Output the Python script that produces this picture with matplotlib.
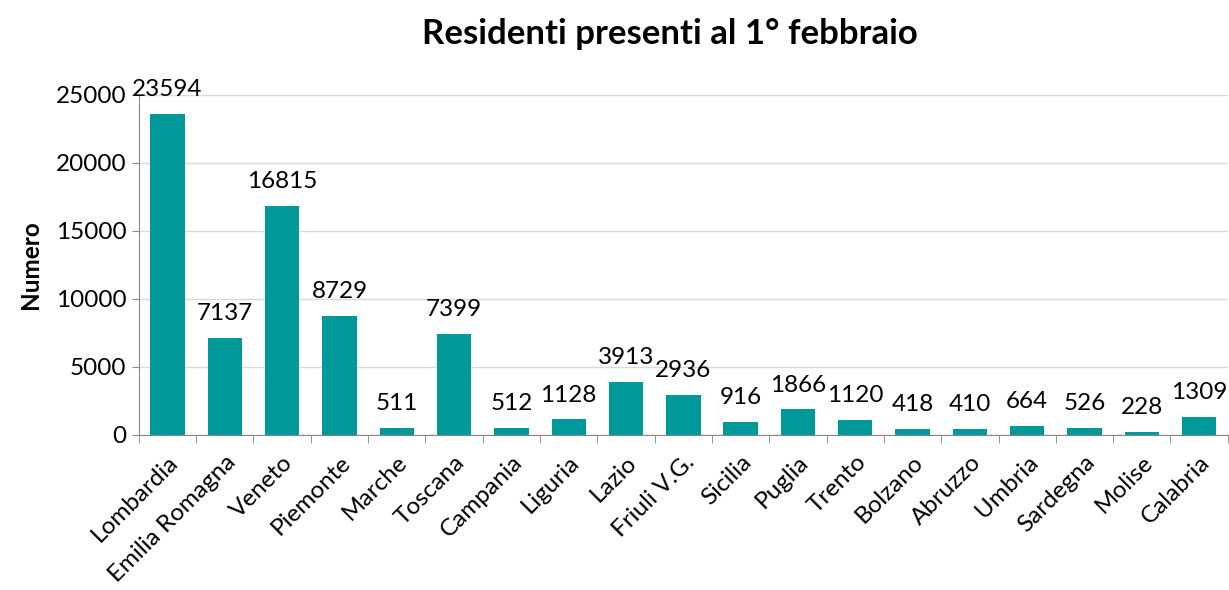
import matplotlib
matplotlib.use("Agg")
import matplotlib.pyplot as plt
import numpy as np

regions = [
    "Lombardia", "Emilia Romagna", "Veneto", "Piemonte", "Marche", "Toscana",
    "Campania", "Liguria", "Lazio", "Friuli V.G.", "Sicilia", "Puglia",
    "Trento", "Bolzano", "Abruzzo", "Umbria", "Sardegna", "Molise", "Calabria",
]
residents = [
    23594, 7137, 16815, 8729, 511, 7399, 512, 1128, 3913, 2936,
    916, 1866, 1120, 418, 410, 664, 526, 228, 1309,
]
yticks = [0, 5000, 10000, 15000, 20000, 25000]

plt.rcParams["font.family"] = ["Lato", "DejaVu Sans"]

fig = plt.figure(figsize=(12.29, 5.90), dpi=100)
ax = fig.add_axes([0.113, 0.263, 0.886, 0.576])

x = np.arange(len(regions))
ax.bar(x, residents, width=0.6, color="#009999", zorder=3)

for xi, v in zip(x, residents):
    ax.annotate(str(v), (xi, v), xytext=(0, 10), textcoords="offset points",
                ha="center", va="bottom", fontsize=17.5, color="#000000")

ax.set_xlim(-0.5, len(regions) - 0.5)
ax.set_ylim(0, 25000)
ax.set_yticks(yticks)
ax.tick_params(axis="y", labelsize=17.5, length=5, color="#868686", pad=4)

ax.set_xticks(x)
ax.set_xticklabels(regions, rotation=45, ha="right", rotation_mode="anchor", fontsize=17.5)
ax.set_xticks(np.arange(-0.5, len(regions)), minor=True)
ax.tick_params(axis="x", which="major", length=0, pad=12)
ax.tick_params(axis="x", which="minor", length=6, color="#868686")

ax.grid(axis="y", color="#d9d9d9", linewidth=1, zorder=0)
for side in ("top", "right"):
    ax.spines[side].set_visible(False)
for side in ("left", "bottom"):
    ax.spines[side].set_color("#868686")

ax.set_ylabel("Numero", fontsize=17.5, fontweight="bold", labelpad=10)
fig.suptitle("Residenti presenti al 1° febbraio", fontsize=25, fontweight="bold",
             x=0.545, y=0.97)

fig.savefig("out.png", dpi=100)
